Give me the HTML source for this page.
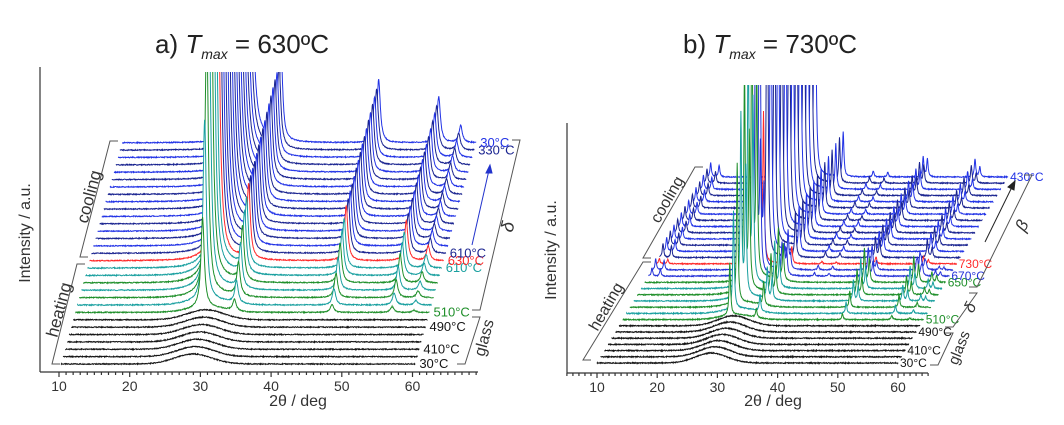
<!DOCTYPE html>
<html><head><meta charset="utf-8">
<style>
html,body{margin:0;padding:0;background:#fff;}
svg{display:block;font-family:"Liberation Sans",sans-serif;}
</style></head>
<body>
<svg id="chart" width="1064" height="425" viewBox="0 0 1064 425" xmlns="http://www.w3.org/2000/svg">
<defs>
<clipPath id="clipA"><rect x="0" y="72" width="532" height="353"/></clipPath>
<clipPath id="clipB"><rect x="532" y="85" width="532" height="340"/></clipPath>
</defs>
<g id="panelA"></g>
<g id="panelB"></g>
<text x="155" y="53" font-size="26" fill="#222">a) <tspan font-style="italic">T</tspan><tspan font-style="italic" font-size="14" dy="6">max</tspan><tspan dy="-6"> = 630ºC</tspan></text>
<text x="683" y="53" font-size="26" fill="#222">b) <tspan font-style="italic">T</tspan><tspan font-style="italic" font-size="14" dy="6">max</tspan><tspan dy="-6"> = 730ºC</tspan></text>
</svg>
<script>
// ---------- data: panel a ----------
const phasesA = ['g','g','g','g','g','g','g','h','t','h','t','h','t','t','r','c','c','c','c','c','c','c','c','c','c','c','c','c','c','c','c'];
const scaleA  = [0,0,0,0,0,0,0,0.15,0.3,0.45,0.6,0.72,0.82,0.9,1,1,1,1,1,1.02,1.03,1.04,1.05,1.06,1.07,1.08,1.09,1.1,1.1,1.12,1.15];
const peakPosA = [28.3, 32.8, 46.6, 55.1, 58.2];
const peakHtA  = [600, 75, 55, 40, 15];
const labelTextA = ['30°C','410°C','490°C','510°C','610°C','630°C','610°C','330°C','30°C'];
const labelIdxA  = [0,2,5,7,13,14,15,29,30];
// ---------- data: panel b ----------
const phasesB = ['g','g','g','g','g','g','g','h','t','h','t','h','t','h','m','m','r','c','c','c','c','c','c','c','c','c','c','c','c','c','c'];
const deltaScaleB = [0,0,0,0,0,0,0,0.15,0.28,0.4,0.52,0.63,0.74,0.85,0.5,0.3,0,0,0,0,0,0,0,0,0,0,0,0,0,0,0];
const betaScaleB  = [0,0,0,0,0,0,0,0,0,0,0,0,0,0,0.6,0.8,0.38,1,1,1,1,1,1,1,1,1,1,1,1,1,1];
const deltaPosB = [27.8, 32.2, 46.5, 54.7, 57.7];
const deltaHtB  = [350, 60, 40, 30, 12];
const betaPosB  = [10.6, 12.0, 27.9, 32.6, 37.6, 40.0, 45.9, 46.6, 54.5, 55.3];
const betaHtB   = [14, 12, 400, 45, 6, 5, 20, 18, 18, 10];
const labelTextB = ['30°C','410°C','490°C','510°C','650°C','670°C','730°C','430°C'];
const labelIdxB  = [0,2,5,7,13,14,16,30];

const NS='http://www.w3.org/2000/svg';
function mk(tag, attrs, parent){const e=document.createElementNS(NS,tag);for(const k in attrs)e.setAttribute(k,attrs[k]);parent.appendChild(e);return e;}
function lor(x,c,g){return 1/(1+((x-c)/g)*((x-c)/g));}
function tex(i,k){const s=Math.sin(i*12.9898+k*78.233)*43758.5453;return (s-Math.floor(s))-0.5;} // noise texture only

function colorFor(ph,i){
  if(ph==='g') return '#151515';
  if(ph==='h') return '#1f8f2a';
  if(ph==='t') return '#1aa0a0';
  if(ph==='r') return '#ff2a2a';
  if(ph==='m') return '#2633d8';
  return i%2? '#1a2490':'#2233e6';
}
function isGlass(ph){return ph==='g';}
function isHeat(ph){return ph==='h'||ph==='t';}

function drawPanel(g, cfg){
  const n=cfg.phases.length;
  const X=(d,i)=>cfg.x0+(d-10)*cfg.pxDeg+i*cfg.dx;
  const Yb=i=>cfg.y0-i*cfg.dy;
  const traces=mk('g',{'clip-path':cfg.clip},g);
  
  
  for(let i=n-1;i>=0;i--){
    const ph=cfg.phases[i];
    let pts=[];
    let k=0;
    for(let d=cfg.dStart;d<=cfg.dEnd+1e-9;d+=0.05,k++){
      let h=cfg.intensity(d,i);
      h+=tex(k,i)*1.0;
      pts.push([X(d,i),Yb(i)-h]);
    }
    const line=pts.map((p,j)=>(j?'L':'M')+p[0].toFixed(1)+' '+p[1].toFixed(1)).join('');
    const fill=line+'L'+pts[pts.length-1][0].toFixed(1)+' '+(Yb(i)+1)+'L'+pts[0][0].toFixed(1)+' '+(Yb(i)+1)+'Z';
    const f=mk('path',{d:fill,fill:'#fff',stroke:'none'},traces);
    
    
    const p=mk('path',{d:line,fill:'none',stroke:colorFor(ph,i),'stroke-width':'1'},traces);
    
    
  }
  cfg.labelText.forEach((t,j)=>{
    const i=cfg.labelIdx[j];
    const e=mk('text',{x:X(cfg.dEnd,i)+cfg.labOff,y:Yb(i)+4,'font-size':cfg.labSize,fill:colorFor(cfg.phases[i],i)},g);
    e.textContent=t;
    
    
  });
  const ax=mk('g',{stroke:'#333','stroke-width':'1.2',fill:'none'},g);
  
  
  mk('line',{x1:cfg.axX,y1:cfg.axTop,x2:cfg.axX,y2:cfg.axY},ax);
  mk('line',{x1:cfg.axX,y1:cfg.axY,x2:cfg.axRight,y2:cfg.axY},ax);
  for(let d=cfg.tickMin;d<=cfg.tickMax;d++){
    const x=cfg.x0+(d-10)*cfg.pxDeg;
    mk('line',{x1:x,y1:cfg.axY,x2:x,y2:cfg.axY+(d%10===0?5:3)},ax);
  }
  for(let d=10;d<=60;d+=10){
    const e=mk('text',{x:cfg.x0+(d-10)*cfg.pxDeg,y:cfg.axY+19,'font-size':'14','text-anchor':'middle',fill:'#333'},g);
    e.textContent=d;
    
    
  }
}

function intensityA(d,i){
  const ph=phasesA[i];let h=0;
  const glassAmt = isGlass(ph)?1:(isHeat(ph)?0.5:0.15);
  h+=10*glassAmt*Math.exp(-((d-29)*(d-29))/(2*2.6*2.6));
  const s=scaleA[i];
  for(let j=0;j<peakPosA.length;j++) h+=s*peakHtA[j]*lor(d,peakPosA[j],0.28);
  return h;
}
function intensityB(d,i){
  const ph=phasesB[i];let h=0;
  const glassAmt = isGlass(ph)?1:(isHeat(ph)?0.5:0.1);
  h+=10*glassAmt*Math.exp(-((d-29)*(d-29))/(2*2.6*2.6));
  const ds=deltaScaleB[i], bs=betaScaleB[i];
  for(let j=0;j<deltaPosB.length;j++){
    h+=ds*deltaHtB[j]*lor(d,deltaPosB[j],0.14);
    if(i>=10) h+=ds*0.7*deltaHtB[j]*lor(d,deltaPosB[j]+0.8,0.14);
  }
  for(let j=0;j<betaPosB.length;j++) h+=bs*betaHtB[j]*lor(d,betaPosB[j],0.14);
  return h;
}

drawPanel(document.getElementById('panelA'),{
  phases:phasesA,intensity:intensityA,x0:59,pxDeg:7.07,dx:2.03,y0:364,dy:7.37,
  dStart:10.3,dEnd:60.4,clip:'url(#clipA)',labelText:labelTextA,labelIdx:labelIdxA,labOff:4,labSize:13,
  axX:40,axTop:67,axY:372,axRight:478,tickMin:10,tickMax:69
});
drawPanel(document.getElementById('panelB'),{
  phases:phasesB,intensity:intensityB,x0:597,pxDeg:6.02,dx:3.67,y0:363,dy:6.2,
  dStart:10,dEnd:60,clip:'url(#clipB)',labelText:labelTextB,labelIdx:labelIdxB,labOff:2,labSize:12,
  axX:567,axTop:123,axY:373,axRight:928,tickMin:5,tickMax:65
});
</script>
<script>
(function(){
const svg=document.getElementById('chart');
const NS='http://www.w3.org/2000/svg';
function mk(tag,a,p){const e=document.createElementNS(NS,tag);for(const k in a)e.setAttribute(k,a[k]);(p||svg).appendChild(e);return e;}
function bracket(x1,y1,x2,y2,hook,name){
  const g=mk('g',{stroke:'#555','stroke-width':'1',fill:'none'});
  
  
  mk('path',{d:`M${x1+hook} ${y1}L${x1} ${y1}L${x2} ${y2}L${x2+hook} ${y2}`},g);
}
function rtext(t,x,y,ang,size,name,italic,color){
  const e=mk('text',{x:x,y:y,'font-size':size,'text-anchor':'middle','dominant-baseline':'middle',fill:color||'#333',transform:`rotate(${ang} ${x} ${y})`});
  if(italic)e.setAttribute('font-style','italic');
  e.textContent=t;
  
  
}
rtext('Intensity / a.u.',26,233,-90,16,'y-axis-title-a');
rtext('Intensity / a.u.',552,250,-90,16,'y-axis-title-b');
rtext('2θ / deg',298,402,0,16,'x-axis-title-a');
rtext('2θ / deg',773,402,0,16,'x-axis-title-b');
bracket(110,141,80,257,8,'cooling-bracket-a');
rtext('cooling',90,197,-75,17,'cooling-label-a');
bracket(77,264,52,364,8,'heating-bracket-a');
rtext('heating',60,310,-75,17,'heating-label-a');
bracket(520,140,480,310,-8,'delta-bracket-a');
rtext('δ',509,227,-75,18,'delta-label-a',true);
bracket(480,317,465,364,-8,'glass-bracket-a');
rtext('glass',485,338,-75,16,'glass-label-a');
const arA=mk('g',{stroke:'#2233cc','stroke-width':'1',fill:'#2233cc'});


mk('line',{x1:472,y1:245,x2:489,y2:170},arA);
mk('path',{d:'M490 165L486 173L492 173Z'},arA);
bracket(695,167,643,258,8,'cooling-bracket-b');
rtext('cooling',668,200,-60,16,'cooling-label-b');
bracket(643,262,583,360,8,'heating-bracket-b');
rtext('heating',607,307,-60,16,'heating-label-b');
bracket(1032,175,977,287,-8,'beta-bracket-b');
rtext('β',1023,226,-62,17,'beta-label-b',true);
bracket(977,293,953,327,-8,'delta-bracket-b');
rtext('δ',971,308,-62,16,'delta-label-b',true);
bracket(953,333,938,365,-8,'glass-bracket-b');
rtext('glass',960,348,-68,15,'glass-label-b');
const arB=mk('g',{stroke:'#222','stroke-width':'1',fill:'#222'});


mk('line',{x1:985,y1:242,x2:1012,y2:187},arB);
mk('path',{d:'M1015 181L1008 187L1014 190Z'},arB);
})();
</script>
</body></html>
